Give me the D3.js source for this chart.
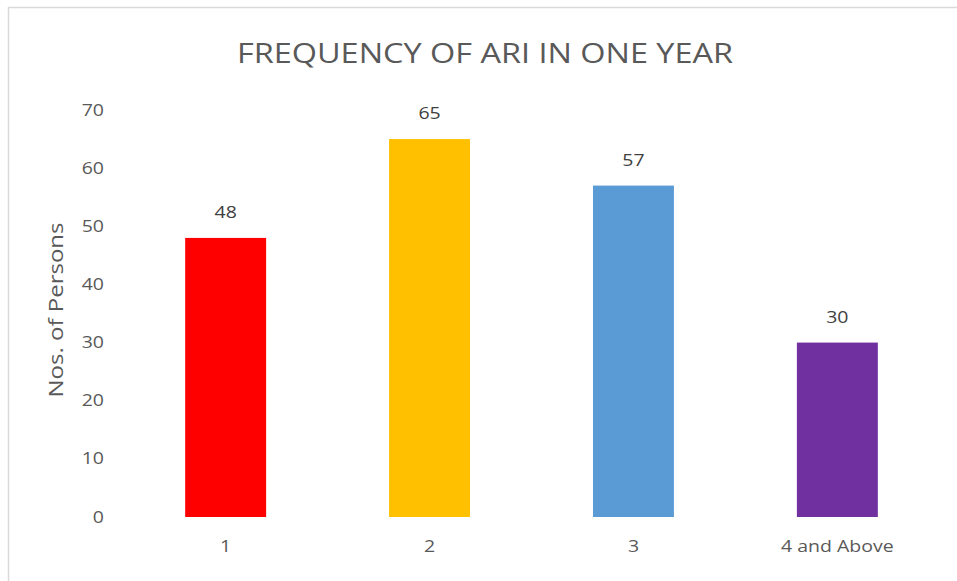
<!DOCTYPE html>
<html><head><meta charset="utf-8">
<script src="https://cdn.jsdelivr.net/npm/d3@7"></script>
<style>html,body{margin:0;padding:0;background:#fff;}svg{display:block;}</style>
</head><body>
<svg id="c" width="957" height="581"></svg>
<script>
const categories = ["1", "2", "3", "4 and Above"];
const values = [48, 65, 57, 30];
const colors = ["#FF0000", "#FFC000", "#5B9BD5", "#7030A0"];
const yTicks = [0, 10, 20, 30, 40, 50, 60, 70];
const title = "FREQUENCY OF ARI IN ONE YEAR";
const yTitle = "Nos. of Persons";

const svg = d3.select("#c");
const font = "'Open Sans', 'Noto Sans', sans-serif";
const txt = "#595959";
const sx = 1.22; // horizontal stretch of the original rendering

// frame
svg.append("rect").attr("x", 8.5).attr("y", 7.5).attr("width", 960).attr("height", 600)
  .attr("fill", "none").attr("stroke", "#d9d9d9").attr("stroke-width", 1.5);

const m = {left: 124, right: 939, top: 110, bottom: 517};
const x = d3.scaleBand().domain(categories).range([m.left, m.right]).paddingInner(0.603).paddingOuter(0.3);
const y = d3.scaleLinear().domain([0, 70]).range([m.bottom, m.top]);

svg.append("text").attr("x", 485).attr("y", 63).attr("text-anchor", "middle")
  .attr("font-family", font).attr("font-size", 28).attr("fill", txt)
  .attr("textLength", 496).attr("lengthAdjust", "spacingAndGlyphs").text(title);

// y axis labels
const ya = svg.append("g").attr("transform", `translate(${m.left - 20},0)`)
  .call(d3.axisLeft(y).tickValues(yTicks).tickSize(0).tickPadding(0));
ya.select(".domain").remove();
ya.selectAll("text").attr("font-family", font).attr("font-size", 16).attr("fill", txt)
  .attr("transform", `scale(${sx},1)`);

// x axis labels
const xa = svg.append("g").attr("transform", `translate(0,${m.bottom})`)
  .call(d3.axisBottom(x).tickSize(0).tickPadding(24));
xa.select(".domain").remove();
xa.selectAll("text").attr("font-family", font).attr("font-size", 16).attr("fill", txt)
  .attr("transform", `scale(${sx},1)`);

svg.append("text").attr("transform", `translate(63,310) rotate(-90)`).attr("text-anchor", "middle")
  .attr("font-family", font).attr("font-size", 20).attr("fill", txt)
  .attr("textLength", 175).attr("lengthAdjust", "spacingAndGlyphs").text(yTitle);

svg.selectAll("rect.bar").data(values).enter().append("rect").attr("class", "bar")
  .attr("x", (d, i) => x(categories[i])).attr("width", x.bandwidth())
  .attr("y", d => y(d)).attr("height", d => y(0) - y(d))
  .attr("fill", (d, i) => colors[i]);

const vg = svg.selectAll("g.val").data(values).enter().append("g").attr("class", "val")
  .attr("transform", (d, i) => `translate(${x(categories[i]) + x.bandwidth() / 2},${y(d) - 20})`);
vg.append("text").attr("text-anchor", "middle").attr("font-family", font).attr("font-size", 16)
  .attr("fill", "#404040").attr("transform", `scale(${sx},1)`).text(d => d);
</script>
</body></html>
